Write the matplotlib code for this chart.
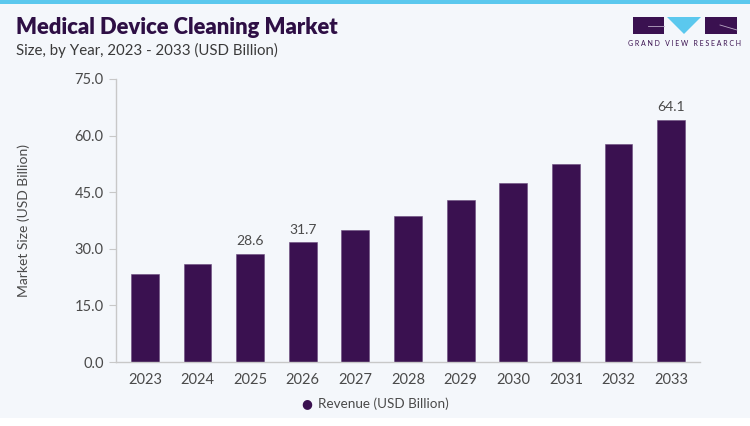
import matplotlib.pyplot as plt
from matplotlib.patches import Rectangle, Polygon
from matplotlib.lines import Line2D

years = ['2023', '2024', '2025', '2026', '2027', '2028', '2029', '2030', '2031', '2032', '2033']
revenue = [23.4, 25.9, 28.6, 31.7, 35.1, 38.8, 42.9, 47.4, 52.4, 57.9, 64.1]
labelled = ['2025', '2026', '2033']
yticks = [0, 15, 30, 45, 60, 75]

bg = '#f4f7fb'
bar_color = '#3a1150'
text_color = '#4a4a4a'

plt.rcParams['font.family'] = ['Lato', 'DejaVu Sans']

fig = plt.figure(figsize=(7.5, 4.26), dpi=100)
fig.patch.set_facecolor('white')


def fx(px):
    return px / 750


def fy(py):
    return 1 - py / 426


# light panel and top accent bar
fig.add_artist(Rectangle((0, fy(418)), 1, 414 / 426, transform=fig.transFigure,
                         facecolor=bg, edgecolor='none', zorder=0))
fig.add_artist(Rectangle((0, fy(4)), 1, 4 / 426, transform=fig.transFigure,
                         facecolor='#5bc8ee', edgecolor='none', zorder=1))

ax = fig.add_axes([fx(116), fy(362), fx(584), 283 / 426])
ax.set_facecolor(bg)

x = range(len(years))
bars = ax.bar(x, revenue, width=0.53, color=bar_color, edgecolor='#6a4a7c', linewidth=0.4, zorder=2)
for i, (yr, v) in enumerate(zip(years, revenue)):
    if yr in labelled:
        ax.text(i, v + 1.8, f'{v:.1f}', ha='center', va='bottom', fontsize=10, color=text_color)

ax.set_xlim(-0.55, len(years) - 0.45)
ax.set_ylim(0, 75)
ax.set_yticks(yticks)
ax.set_yticklabels([f'{t:.1f}' for t in yticks])
ax.set_xticks(list(x))
ax.set_xticklabels(years)
ax.tick_params(axis='y', length=5, color='#c8c8c8', labelsize=10.5, labelcolor=text_color, pad=4)
ax.tick_params(axis='x', length=0, labelsize=10.5, labelcolor=text_color, pad=8)
for s in ['top', 'right']:
    ax.spines[s].set_visible(False)
for s in ['left', 'bottom']:
    ax.spines[s].set_color('#c8c8c8')
    ax.spines[s].set_linewidth(1)

ax.set_ylabel('Market Size (USD Billion)', fontsize=10, color=text_color, labelpad=32)

# legend
fig.text(fx(307), fy(404), '\u25cf', color=bar_color, fontsize=9, ha='center', va='center',
         family='DejaVu Sans')
fig.text(fx(318), fy(404), 'Revenue (USD Billion)', fontsize=9.7, color=text_color,
         ha='left', va='center')

fig.text(fx(16), fy(28), 'Medical Device Cleaning Market', fontsize=15.8, fontweight='heavy',
         color='#2e0f45', va='center')
fig.text(fx(16), fy(50), 'Size, by Year, 2023 - 2033 (USD Billion)', fontsize=10.8,
         color='#3a3a3a', va='center')

# logo
fig.add_artist(Rectangle((fx(633), fy(34)), fx(31), 17 / 426, transform=fig.transFigure,
                         facecolor='#3a1150', edgecolor='none'))
fig.add_artist(Rectangle((fx(705), fy(34)), fx(32), 17 / 426, transform=fig.transFigure,
                         facecolor='#3a1150', edgecolor='none'))
fig.add_artist(Polygon([(fx(667), fy(17)), (fx(701), fy(17)), (fx(684), fy(34))],
                       closed=True, transform=fig.transFigure, facecolor='#5bc8ee', edgecolor='none'))
fig.add_artist(Line2D([fx(648), fx(664)], [fy(26), fy(26)], transform=fig.transFigure,
                      color='#b9a8c4', linewidth=0.6))
fig.add_artist(Line2D([fx(720), fx(737)], [fy(25), fy(30)], transform=fig.transFigure,
                      color='#b9a8c4', linewidth=0.6))
fig.text(fx(685), fy(44), 'G R A N D   V I E W   R E S E A R C H', fontsize=5, color='#3a1150',
         ha='center', va='center')

fig.savefig('out.png', dpi=100, facecolor=fig.get_facecolor())
